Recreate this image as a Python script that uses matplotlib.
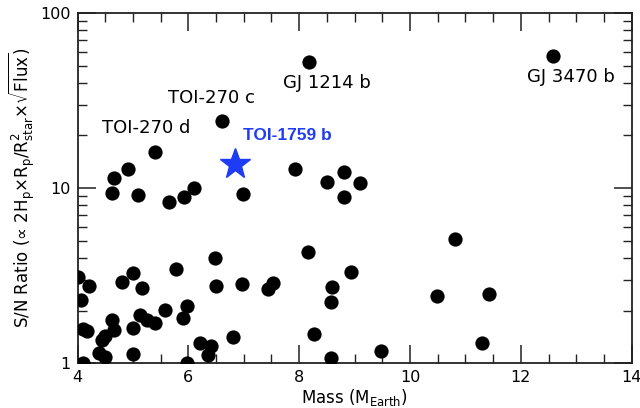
import matplotlib
matplotlib.use("Agg")
import matplotlib.pyplot as plt
from matplotlib.ticker import FixedLocator, LogLocator, NullFormatter, MultipleLocator

# planet masses (M_Earth) and S/N ratios
mass = [12.58, 8.18, 6.61, 5.40, 4.92, 4.66, 4.62, 5.09, 5.65, 5.92, 6.11, 6.99,
        7.92, 8.50, 8.81, 9.10, 8.81,
        4.00, 4.20, 4.06, 4.80, 5.00, 5.16, 5.78, 6.48, 6.50, 6.96, 5.57, 5.98,
        5.90, 5.13, 5.26, 5.40, 5.01, 4.62, 4.65, 4.50, 4.45, 4.10, 4.17, 4.38,
        4.50, 4.10, 5.01, 5.97, 6.21, 6.41, 6.36, 6.80,
        7.44, 7.52, 8.15, 8.93, 8.59, 8.57, 8.27, 8.57, 9.47, 10.81, 10.48,
        11.43, 11.30]
snr = [56.8, 52.5, 24.2, 16.1, 12.9, 11.4, 9.38, 9.14, 8.30, 8.87, 9.98, 9.22,
       12.8, 10.8, 12.4, 10.7, 8.94,
       3.12, 2.76, 2.30, 2.92, 3.26, 2.68, 3.44, 3.99, 2.76, 2.83, 2.02, 2.12,
       1.81, 1.89, 1.77, 1.69, 1.60, 1.77, 1.55, 1.43, 1.36, 1.57, 1.53, 1.15,
       1.08, 1.00, 1.13, 1.00, 1.30, 1.26, 1.12, 1.42,
       2.65, 2.86, 4.30, 3.33, 2.74, 2.25, 1.47, 1.07, 1.18, 5.10, 2.41,
       2.49, 1.31]

toi1759_mass = 6.84
toi1759_snr = 13.7

# annotation names and where they sit (data coords)
names = ["GJ 3470 b", "GJ 1214 b", "TOI-270 c", "TOI-270 d"]
name_x = [12.90, 8.50, 6.42, 5.24]
name_y = [43.3, 39.9, 32.7, 22.1]

blue = "#1e3cf5"

fig = plt.figure(figsize=(6.4, 4.08), dpi=100)
ax = fig.add_axes([0.1211, 0.1096, 0.8660, 0.8585])

ax.scatter(mass, snr, s=105, color="black", zorder=3, linewidths=0)
ax.plot([toi1759_mass], [toi1759_snr], marker="*", markersize=23,
        color=blue, linestyle="none", zorder=4)

for n, tx, ty in zip(names, name_x, name_y):
    ax.text(tx, ty, n, ha="center", va="center", fontsize=13)
ax.text(6.98, 19.9, "TOI-1759 b", ha="left", va="center", fontsize=12.5,
        fontweight="bold", color=blue, family=["Liberation Sans", "DejaVu Sans"])

ax.set_yscale("log")
ax.set_xlim(4, 14)
ax.set_ylim(1, 100)

ax.xaxis.set_major_locator(MultipleLocator(2))
ax.xaxis.set_minor_locator(MultipleLocator(0.5))
ax.yaxis.set_major_locator(FixedLocator([1, 10, 100]))
ax.yaxis.set_major_formatter(plt.FuncFormatter(lambda v, p: "%d" % v))
ax.yaxis.set_minor_locator(LogLocator(base=10, subs=range(2, 10)))
ax.yaxis.set_minor_formatter(NullFormatter())

ax.tick_params(which="both", direction="in", top=True, right=True,
               labelsize=11.5, color="#222222")
ax.tick_params(which="major", length=13, width=1.1, pad=5)
ax.tick_params(which="minor", length=6.5, width=1.0)
for sp in ax.spines.values():
    sp.set_linewidth(1.3)
    sp.set_color("#222222")

ax.set_xlabel(r"Mass (M$_\mathregular{Earth}$)", fontsize=12, labelpad=1)
ax.set_ylabel("S/N Ratio (\u221d 2H$_\\mathregular{p}$$\\times$R$_\\mathregular{p}$/"
              "R$^2_\\mathregular{star}$$\\times$$\\sqrt{\\mathregular{Flux}}$)",
              fontsize=12, labelpad=2)

fig.savefig("out.png", dpi=100)
